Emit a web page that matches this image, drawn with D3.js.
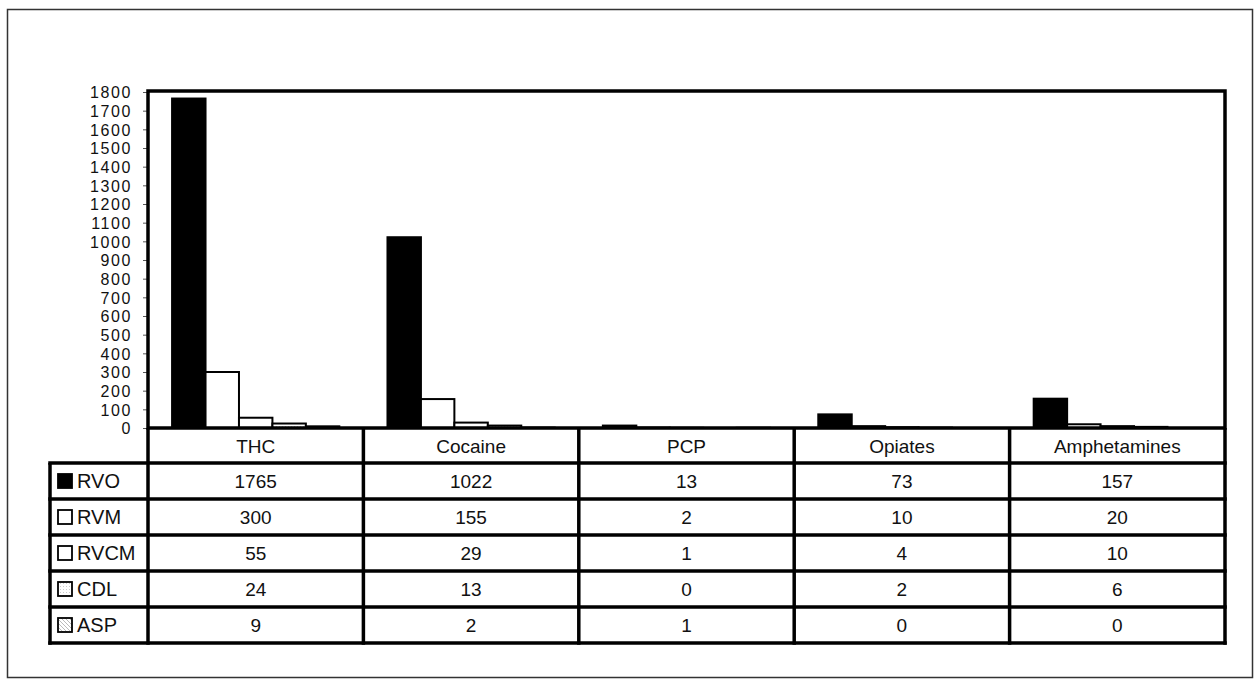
<!DOCTYPE html>
<html>
<head>
<meta charset="utf-8">
<script src="https://cdn.jsdelivr.net/npm/d3@7"></script>
<style>
  body { margin: 0; background: #fff; }
  svg text { font-family: "Liberation Sans", Arial, sans-serif; fill: #111; }
</style>
</head>
<body>
<svg id="chart"></svg>
<script>
// categories and series
var categories = ["THC", "Cocaine", "PCP", "Opiates", "Amphetamines"];
var seriesNames = ["RVO", "RVM", "RVCM", "CDL", "ASP"];

// values per series, in category order
var rvo  = [1765, 1022, 13, 73, 157];
var rvm  = [300, 155, 2, 10, 20];
var rvcm = [55, 29, 1, 4, 10];
var cdl  = [24, 13, 0, 2, 6];
var asp  = [9, 2, 1, 0, 0];

var yTicks = d3.range(0, 1801, 100);

var seriesValues = [rvo, rvm, rvcm, cdl, asp];

var width = 1256, height = 679;

var svg = d3.select("#chart")
    .attr("width", width)
    .attr("height", height);

// patterns for the lighter series
var defs = svg.append("defs");
var dots = defs.append("pattern")
    .attr("id", "dots")
    .attr("width", 3).attr("height", 3)
    .attr("patternUnits", "userSpaceOnUse");
dots.append("rect").attr("width", 3).attr("height", 3).attr("fill", "#fff");
dots.append("rect").attr("width", 1).attr("height", 1).attr("fill", "#ccc");

var hatch = defs.append("pattern")
    .attr("id", "hatch")
    .attr("width", 4).attr("height", 4)
    .attr("patternUnits", "userSpaceOnUse");
hatch.append("rect").attr("width", 4).attr("height", 4).attr("fill", "#fff");
hatch.append("path").attr("d", "M0,0 L4,4").attr("stroke", "#bbb").attr("stroke-width", 1);

var fills = ["#000", "#fff", "#fff", "url(#dots)", "url(#hatch)"];

// outer frame
svg.append("rect")
    .attr("x", 7.5).attr("y", 9.5)
    .attr("width", 1245).attr("height", 668)
    .attr("fill", "none")
    .attr("stroke", "#333")
    .attr("stroke-width", 1.5);

// plot area
var plot = { left: 148, right: 1225, top: 91, bottom: 428 };

var x0 = d3.scaleBand()
    .domain(categories)
    .range([plot.left, plot.right])
    .padding(0);

var x1 = d3.scaleBand()
    .domain(seriesNames)
    .range([0, x0.bandwidth()])
    .paddingInner(0)
    .paddingOuter(0.72);

var y = d3.scaleLinear()
    .domain([0, 1800])
    .range([plot.bottom, plot.top + 1]);

// bars
var barData = [];
categories.forEach(function(c, i) {
    seriesNames.forEach(function(s, j) {
        barData.push({ cat: c, series: s, idx: j, value: seriesValues[j][i] });
    });
});

svg.append("g")
    .selectAll("rect")
    .data(barData.filter(function(d) { return d.value > 0; }))
    .enter().append("rect")
    .attr("x", function(d) { return x0(d.cat) + x1(d.series); })
    .attr("y", function(d) { return y(d.value); })
    .attr("width", x1.bandwidth())
    .attr("height", function(d) { return y(0) - y(d.value); })
    .attr("fill", function(d) { return fills[d.idx]; })
    .attr("stroke", "#000")
    .attr("stroke-width", 2);

// y axis
var yAxis = d3.axisLeft(y)
    .tickValues(yTicks)
    .tickSize(4)
    .tickPadding(11)
    .tickFormat(d3.format("d"));

var gy = svg.append("g")
    .attr("transform", "translate(" + (plot.left - 1) + ",0)")
    .call(yAxis);
gy.select(".domain").remove();
gy.selectAll(".tick line").attr("stroke", "#555").attr("stroke-width", 1);
gy.selectAll(".tick text")
    .style("font-size", "16px")
    .style("letter-spacing", "1.6px")
    .attr("dy", "0.36em");

// plot border
svg.append("rect")
    .attr("x", plot.left).attr("y", plot.top)
    .attr("width", plot.right - plot.left)
    .attr("height", plot.bottom - plot.top)
    .attr("fill", "none")
    .attr("stroke", "#000")
    .attr("stroke-width", 3.5);

// data table
var headerH = 35, rowH = 36;
var legendLeft = 50;
var tableTop = plot.bottom;
var rowsTop = tableTop + headerH;
var tableBottom = rowsTop + rowH * seriesNames.length;

var table = svg.append("g");

// header labels
table.selectAll(".head")
    .data(categories)
    .enter().append("text")
    .attr("class", "head")
    .attr("x", function(d) { return x0(d) + x0.bandwidth() / 2; })
    .attr("y", tableTop + headerH / 2 + 1)
    .attr("dy", "0.35em")
    .attr("text-anchor", "middle")
    .style("font-size", "19px")
    .text(function(d) { return d; });

// value cells
table.selectAll(".cell")
    .data(barData)
    .enter().append("text")
    .attr("class", "cell")
    .attr("x", function(d) { return x0(d.cat) + x0.bandwidth() / 2; })
    .attr("y", function(d) { return rowsTop + rowH * d.idx + rowH / 2; })
    .attr("dy", "0.35em")
    .attr("text-anchor", "middle")
    .style("font-size", "19px")
    .text(function(d) { return d.value; });

// legend column
var leg = table.selectAll(".leg")
    .data(seriesNames)
    .enter().append("g")
    .attr("class", "leg")
    .attr("transform", function(d, i) { return "translate(0," + (rowsTop + rowH * i + rowH / 2) + ")"; });

leg.append("rect")
    .attr("x", 58).attr("y", -7)
    .attr("width", 14).attr("height", 14)
    .attr("fill", function(d, i) { return fills[i]; })
    .attr("stroke", "#000")
    .attr("stroke-width", 1.8);

leg.append("text")
    .attr("x", 77)
    .attr("dy", "0.36em")
    .style("font-size", "20px")
    .text(function(d) { return d; });

// table grid lines
var gridW = 3.5;
// horizontal lines
var hLines = [{ y: rowsTop, x1: legendLeft, x2: plot.right }];
seriesNames.forEach(function(s, i) {
    hLines.push({ y: rowsTop + rowH * (i + 1), x1: legendLeft, x2: plot.right });
});
table.selectAll(".hl")
    .data(hLines)
    .enter().append("line")
    .attr("x1", function(d) { return d.x1 - gridW / 2; })
    .attr("x2", function(d) { return d.x2 + gridW / 2; })
    .attr("y1", function(d) { return d.y; })
    .attr("y2", function(d) { return d.y; })
    .attr("stroke", "#000")
    .attr("stroke-width", gridW);

// vertical lines
var vLines = [{ x: legendLeft, y1: rowsTop, y2: tableBottom }];
categories.forEach(function(c) {
    vLines.push({ x: x0(c), y1: tableTop, y2: tableBottom });
});
vLines.push({ x: plot.right, y1: tableTop, y2: tableBottom });
table.selectAll(".vl")
    .data(vLines)
    .enter().append("line")
    .attr("x1", function(d) { return d.x; })
    .attr("x2", function(d) { return d.x; })
    .attr("y1", function(d) { return d.y1; })
    .attr("y2", function(d) { return d.y2 + gridW / 2; })
    .attr("stroke", "#000")
    .attr("stroke-width", gridW);
</script>
</body>
</html>
